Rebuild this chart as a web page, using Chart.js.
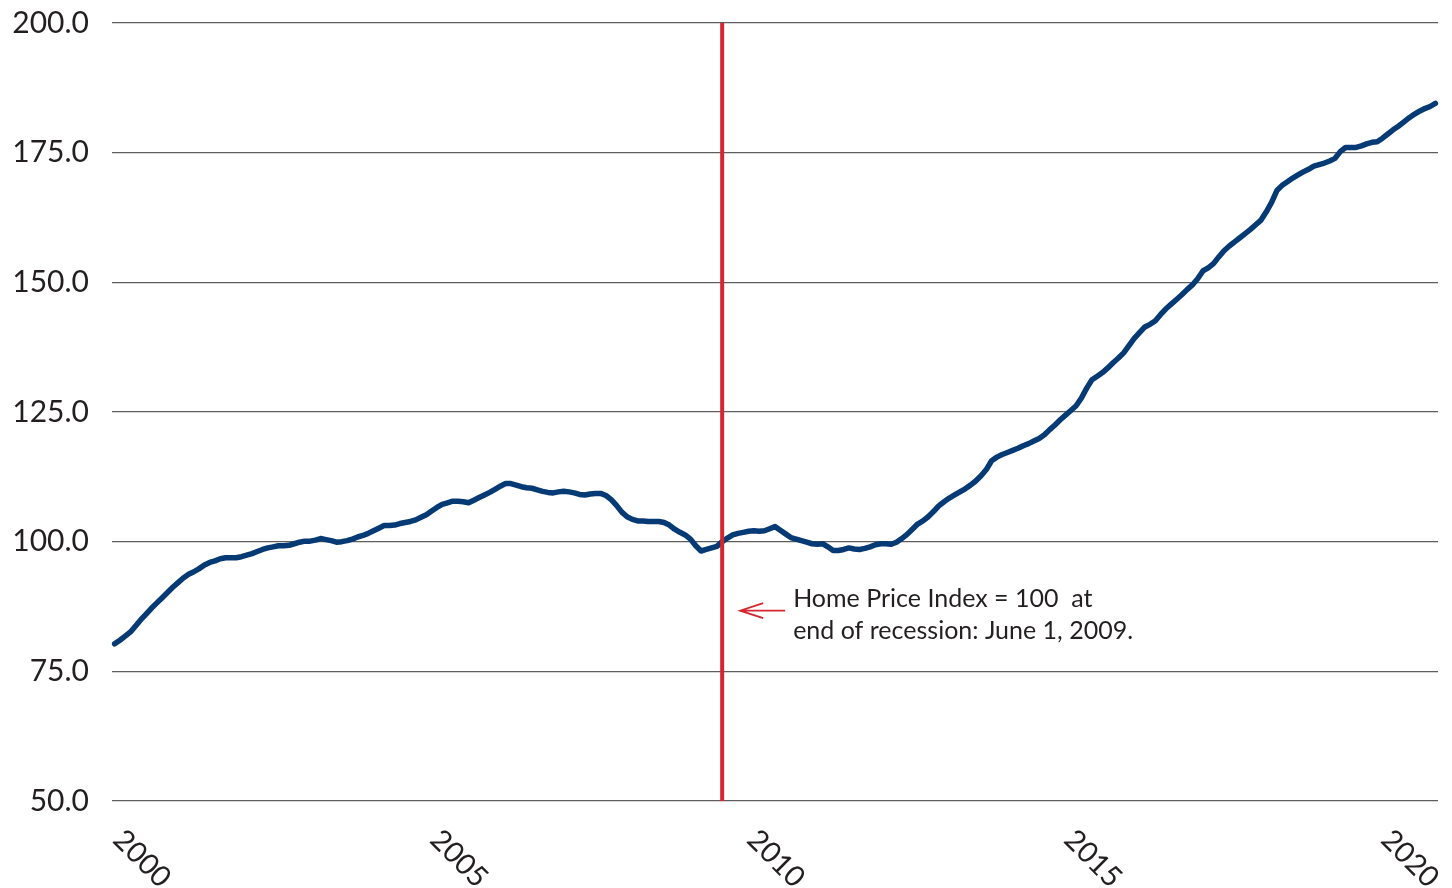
<!DOCTYPE html>
<html>
<head>
<meta charset="utf-8">
<script src="https://cdn.jsdelivr.net/npm/chart.js@4.4.1/dist/chart.umd.min.js"></script>
<style>
  html, body { margin: 0; padding: 0; background: #ffffff; }
  #wrap { width: 1452px; height: 888px; position: relative; }
</style>
</head>
<body>
<div id="wrap"><canvas id="hpi"></canvas></div>
<script>
// Monthly home price index, rebased so June 2009 = 100
const firstMonth = { year: 1999, month: 11 };
const hpi = [
  80.3, 81.0,
  // 2000
  81.8, 82.6, 83.8, 85.0, 86.1, 87.2, 88.2, 89.2, 90.2, 91.2, 92.1, 93.0,
  // 2001
  93.7, 94.2, 94.8, 95.5, 96.0, 96.3, 96.7, 96.9, 96.9, 96.9, 97.1, 97.4,
  // 2002
  97.7, 98.1, 98.5, 98.8, 99.0, 99.2, 99.2, 99.3, 99.6, 99.9, 100.1, 100.1,
  // 2003
  100.3, 100.6, 100.4, 100.2, 99.9, 100.0, 100.2, 100.5, 100.9, 101.2, 101.6, 102.1,
  // 2004
  102.6, 103.1, 103.1, 103.2, 103.5, 103.7, 103.9, 104.2, 104.7, 105.2, 105.9, 106.6,
  // 2005
  107.2, 107.5, 107.8, 107.8, 107.7, 107.5, 108.0, 108.5, 109.0, 109.5, 110.1, 110.7,
  // 2006
  111.2, 111.2, 110.9, 110.6, 110.4, 110.3, 110.0, 109.7, 109.5, 109.4, 109.6, 109.7,
  // 2007
  109.6, 109.4, 109.1, 109.0, 109.2, 109.3, 109.3, 108.9, 108.1, 107.0, 105.7, 104.8,
  // 2008
  104.3, 104.0, 104.0, 103.9, 103.9, 103.9, 103.7, 103.2, 102.4, 101.8, 101.3, 100.5,
  // 2009
  99.2, 98.2, 98.5, 98.8, 99.1, 100.0, 100.7, 101.3, 101.6, 101.8, 102.0, 102.1,
  // 2010
  102.0, 102.1, 102.5, 102.9, 102.2, 101.5, 100.8, 100.5, 100.2, 99.9, 99.6, 99.5,
  // 2011
  99.6, 99.0, 98.3, 98.3, 98.5, 98.8, 98.6, 98.5, 98.7, 99.0, 99.4, 99.6,
  // 2012
  99.6, 99.5, 99.9, 100.6, 101.4, 102.4, 103.4, 104.0, 104.8, 105.8, 106.9, 107.7,
  // 2013
  108.4, 109.0, 109.6, 110.2, 110.9, 111.7, 112.7, 113.9, 115.6, 116.3, 116.8, 117.2,
  // 2014
  117.6, 118.0, 118.5, 118.9, 119.4, 119.9, 120.6, 121.6, 122.5, 123.5, 124.4, 125.3,
  // 2015
  126.2, 127.7, 129.6, 131.2, 131.9, 132.6, 133.5, 134.5, 135.4, 136.4, 137.8, 139.2,
  // 2016
  140.3, 141.4, 141.9, 142.6, 143.8, 144.9, 145.8, 146.7, 147.6, 148.6, 149.5, 150.7,
  // 2017
  152.2, 152.8, 153.6, 154.9, 156.1, 157.0, 157.8, 158.6, 159.4, 160.2, 161.1, 162.0,
  // 2018
  163.6, 165.4, 167.7, 168.7, 169.4, 170.1, 170.7, 171.3, 171.8, 172.4, 172.7, 173.0,
  // 2019
  173.4, 173.9, 175.2, 176.0, 176.0, 176.0, 176.3, 176.7, 177.0, 177.1, 177.8, 178.6,
  // 2020
  179.4, 180.1, 180.9, 181.7, 182.4, 183.0, 183.5, 183.9, 184.5
];
const yearTicks = ['2000', '2005', '2010', '2015', '2020'];
const yTicks = [50, 75, 100, 125, 150, 175, 200];
const recessionEnd = '2009-06';
const noteLines = ['Home Price Index = 100  at', 'end of recession: June 1, 2009.'];

// Month categories, one per index value
const months = hpi.map((_, i) => {
  const m = firstMonth.month - 1 + i;
  const y = firstMonth.year + Math.floor(m / 12);
  return y + '-' + String((m % 12) + 1).padStart(2, '0');
});

const FONT = 'Lato, "Open Sans", sans-serif';
const TEXT = '#231f20';
const NAVY = '#053a74';
const RED = '#d52630';

const overlay = {
  id: 'overlay',
  afterDatasetsDraw(chart) {
    const { ctx, chartArea, scales: { x, y } } = chart;
    const rx = x.getPixelForValue(months.indexOf(recessionEnd));
    ctx.save();
    // recession end marker
    ctx.strokeStyle = RED;
    ctx.lineWidth = 4;
    ctx.beginPath();
    ctx.moveTo(rx, chartArea.top);
    ctx.lineTo(rx, chartArea.bottom);
    ctx.stroke();

    // arrow pointing at the marker
    const ay = y.getPixelForValue(86.7);
    const tip = rx + 18;
    ctx.lineWidth = 1.8;
    ctx.beginPath();
    ctx.moveTo(tip + 45, ay);
    ctx.lineTo(tip, ay);
    ctx.moveTo(tip + 23, ay - 7.5);
    ctx.lineTo(tip, ay);
    ctx.lineTo(tip + 23, ay + 7.5);
    ctx.stroke();

    // note text
    ctx.fillStyle = TEXT;
    ctx.font = '25px ' + FONT;
    ctx.textAlign = 'left';
    ctx.textBaseline = 'alphabetic';
    noteLines.forEach((t, i) => ctx.fillText(t, rx + 71, ay - 4 + i * 32));
    ctx.restore();
  },
  afterDraw(chart) {
    const { ctx, chartArea, scales: { x } } = chart;
    ctx.save();
    ctx.fillStyle = TEXT;
    ctx.font = '29px ' + FONT;
    ctx.textAlign = 'left';
    ctx.textBaseline = 'middle';
    yearTicks.forEach(yr => {
      const px = x.getPixelForValue(months.indexOf(yr + '-01'));
      ctx.save();
      ctx.translate(px - 7, chartArea.bottom + 34);
      ctx.rotate(Math.PI / 4);
      ctx.fillText(yr, 0, 0);
      ctx.restore();
    });
    ctx.restore();
  }
};

new Chart(document.getElementById('hpi'), {
  type: 'line',
  data: {
    labels: months,
    datasets: [{
      data: hpi,
      borderColor: NAVY,
      borderWidth: 5.5,
      borderCapStyle: 'round',
      borderJoinStyle: 'round',
      pointRadius: 0,
      tension: 0,
      fill: false
    }]
  },
  options: {
    responsive: true,
    maintainAspectRatio: false,
    animation: false,
    events: [],
    layout: { padding: { top: 23, right: 14, left: 0, bottom: 0 } },
    plugins: { legend: { display: false }, tooltip: { enabled: false } },
    scales: {
      x: {
        type: 'category',
        offset: true,
        grid: { display: false },
        border: { display: false },
        ticks: { display: false },
        afterFit(scale) {
          scale.height = 87;
          scale.paddingLeft = 0;
          scale.paddingRight = 0;
        }
      },
      y: {
        min: 50,
        max: 200,
        afterBuildTicks(scale) { scale.ticks = yTicks.map(v => ({ value: v })); },
        grid: { color: '#5e5e5e', lineWidth: 1.3, drawTicks: false },
        border: { display: false },
        ticks: {
          padding: 23,
          color: TEXT,
          font: { family: FONT, size: 30 },
          callback: v => v.toFixed(1)
        },
        afterFit(scale) {
          scale.width = 112;
          scale.paddingTop = 0;
          scale.paddingBottom = 0;
        }
      }
    }
  },
  plugins: [overlay]
});
</script>
</body>
</html>
